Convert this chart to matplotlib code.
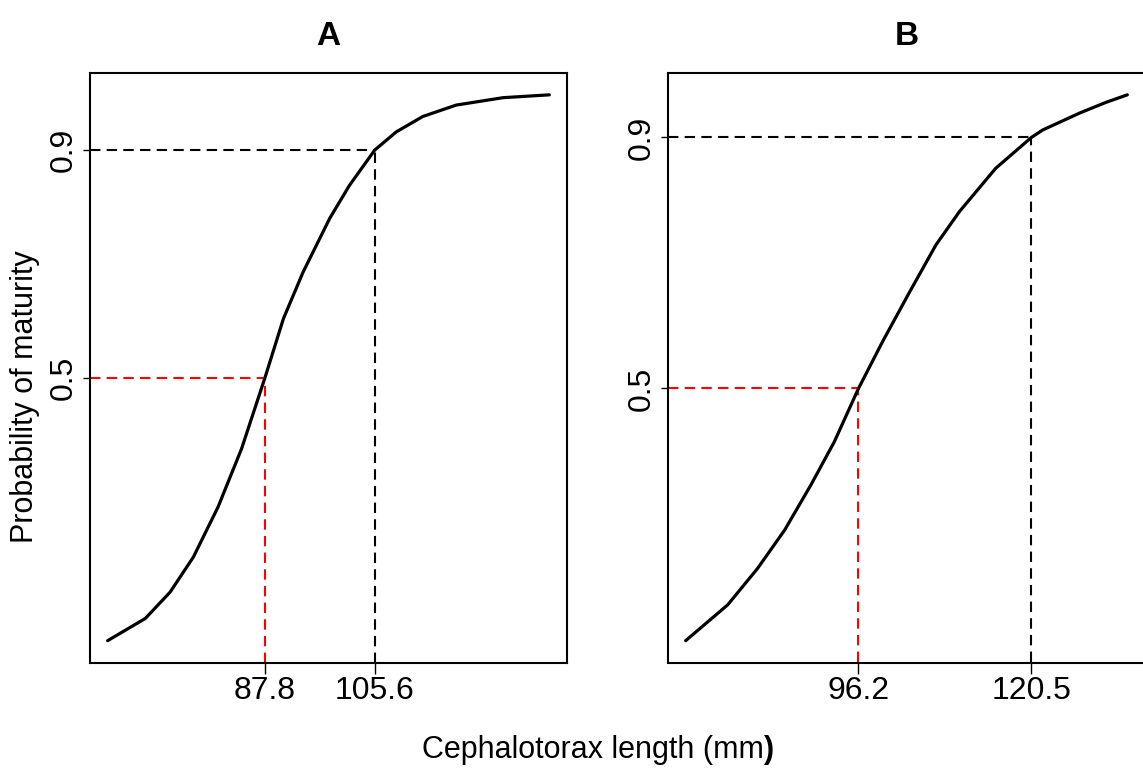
import matplotlib
matplotlib.use("Agg")
import matplotlib.pyplot as plt

# ---- data ----
# Panel A
length_A = [62.3, 68.4, 72.4, 76.2, 80.2, 84.0, 87.8, 90.8, 94.0, 98.3,
            101.5, 105.6, 109.1, 113.4, 118.8, 126.4, 133.9]
prob_A = [0.038, 0.077, 0.123, 0.185, 0.273, 0.375, 0.500, 0.604, 0.686, 0.780,
          0.838, 0.900, 0.932, 0.959, 0.979, 0.992, 0.997]
L50_A, L90_A = 87.8, 105.6

# Panel B
length_B = [71.9, 77.8, 82.0, 85.8, 89.5, 92.8, 96.2, 99.6, 103.4, 107.1,
            110.4, 115.5, 120.5, 122.1, 127.3, 131.0, 134.0]
prob_B = [0.098, 0.155, 0.213, 0.274, 0.346, 0.415, 0.500, 0.575, 0.654, 0.729,
          0.782, 0.851, 0.900, 0.912, 0.939, 0.956, 0.968]
L50_B, L90_B = 96.2, 120.5

panel_titles = ["A", "B"]
y_ticks = [0.5, 0.9]
y_ticklabels = ["0.5", "0.9"]
xtick_labels_A = ["87.8", "105.6"]
xtick_labels_B = ["96.2", "120.5"]
xlabel = "Cephalotorax length (mm"
ylabel = "Probability of maturity"

NARROW = ["Liberation Sans Narrow", "Liberation Sans", "DejaVu Sans"]
REG = ["Liberation Sans", "DejaVu Sans"]

fig = plt.figure(figsize=(11.43, 7.69), dpi=100)
fig.patch.set_facecolor("white")

W = (567 - 90) / 1143
H = (662.5 - 73) / 769
B0 = 1 - 662.5 / 769
axA = fig.add_axes([90 / 1143, B0, W, H])
axB = fig.add_axes([668 / 1143, B0, W, H])


def rlim(v):
    lo, hi = min(v), max(v)
    s = hi - lo
    return lo - 0.04 * s, hi + 0.04 * s


def panel(ax, x, y, l50, l90, xlabels, title):
    xl = rlim(x)
    yl = rlim(y)
    ax.set_xlim(xl)
    ax.set_ylim(yl)
    dash = (5, 3)
    lw_d = 1.5
    # reference lines
    ax.plot([xl[0], l50], [0.5, 0.5], color="#ff0000", lw=lw_d, dashes=dash, zorder=2)
    ax.plot([l50, l50], [yl[0], 0.5], color="#ff0000", lw=lw_d, dashes=dash, zorder=2)
    ax.plot([xl[0], l90], [0.9, 0.9], color="black", lw=lw_d, dashes=dash, zorder=2)
    ax.plot([l90, l90], [yl[0], 0.9], color="black", lw=lw_d, dashes=dash, zorder=2)
    # curve
    ax.plot(x, y, color="black", lw=2.3, zorder=3, solid_capstyle="round",
            solid_joinstyle="round")

    ax.set_xticks([l50, l90])
    ax.set_xticklabels(xlabels, family=NARROW, fontsize=23)
    ax.set_yticks(y_ticks)
    ax.set_yticklabels(y_ticklabels, family=REG, fontsize=23, rotation=90,
                       va="center", ha="right")
    ax.tick_params(axis="x", direction="out", length=8, width=1.0, pad=2)
    ax.tick_params(axis="y", direction="out", length=5, width=1.0, pad=3)
    for s in ax.spines.values():
        s.set_linewidth(1.5)
        s.set_color("black")
    ax.set_title(title, family=NARROW, fontweight="bold", fontsize=24, pad=20)


panel(axA, length_A, prob_A, L50_A, L90_A, xtick_labels_A, panel_titles[0])
panel(axB, length_B, prob_B, L50_B, L90_B, xtick_labels_B, panel_titles[1])

# axis labels
t1 = fig.text(0.5185, 0.025, xlabel, family=REG, fontsize=22, ha="center", va="center")
fig.canvas.draw()
axA.annotate(")", xy=(1, 0), xycoords=t1, ha="left", va="bottom",
             family=REG, fontsize=22, fontweight="bold", annotation_clip=False)
fig.text(0.022, 0.484, ylabel, family=REG, fontsize=22, rotation=90,
         ha="center", va="center")

fig.savefig("out.png", dpi=100, facecolor="white")
